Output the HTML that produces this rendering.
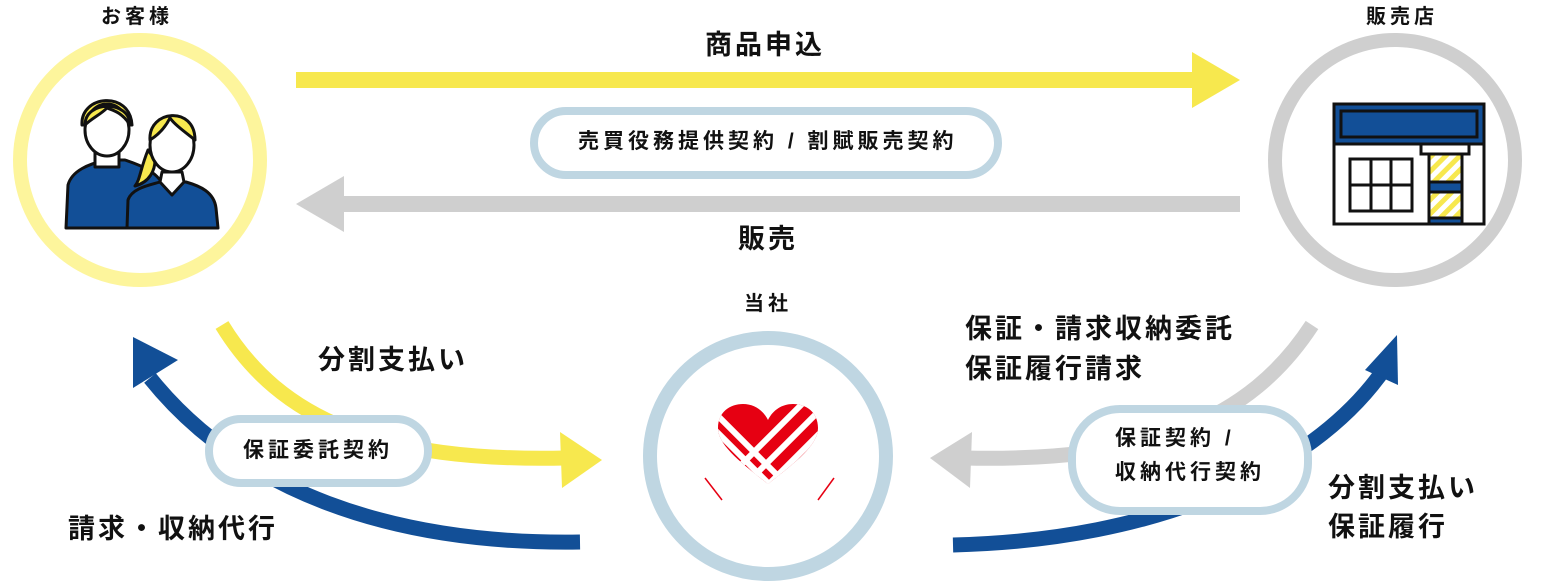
<!DOCTYPE html>
<html><head><meta charset="utf-8"><style>
html,body{margin:0;padding:0;background:#fff;}
body{width:1548px;height:586px;overflow:hidden;position:relative;font-family:"Liberation Sans","Noto Sans CJK JP",sans-serif;font-weight:bold;color:#111;}
.t{position:absolute;white-space:nowrap;line-height:1;}
.big{font-size:27px;letter-spacing:3px;}
.pl{font-size:21px;letter-spacing:4px;}
.lb{font-size:20px;letter-spacing:4px;}
</style></head><body>
<svg width="1548" height="586" style="position:absolute;left:0;top:0">
<defs>
<clipPath id="hc"><path d="M768,484 C740,462 718,445 718,428 C718,412 730,404 743,404 C754,404 763,410 768,420 C773,410 782,404 793,404 C806,404 818,412 818,428 C818,445 796,462 768,484Z"/></clipPath>
<pattern id="st" width="10" height="10" patternUnits="userSpaceOnUse" patternTransform="rotate(45)"><rect width="5" height="10" fill="#f7e84e"/></pattern>
</defs>
<circle cx="140" cy="160" r="120" fill="#fff" stroke="#fdf59c" stroke-width="14"/>
<circle cx="1395" cy="160" r="120" fill="#fff" stroke="#cfcfcf" stroke-width="14"/>
<circle cx="768" cy="456" r="118" fill="#fff" stroke="#bfd6e2" stroke-width="14"/>
<rect x="296" y="72" width="900" height="16" fill="#f7e84e"/>
<polygon points="1192,52 1240,80 1192,108" fill="#f7e84e"/>
<rect x="340" y="196" width="900" height="16" fill="#cfcfcf"/>
<polygon points="344,176 296,204 344,232" fill="#cfcfcf"/>
<path d="M222,325 C280,420 380,462 565,458" fill="none" stroke="#f7e84e" stroke-width="15"/>
<polygon points="560,432 602,460 562,488" fill="#f7e84e"/>
<path d="M580,542 C390,545 240,490 150,378" fill="none" stroke="#124f97" stroke-width="15"/>
<polygon points="133,337 178,360 133,388" fill="#124f97"/>
<path d="M1312,325 C1250,420 1150,462 965,458" fill="none" stroke="#cfcfcf" stroke-width="15"/>
<polygon points="972,432 930,458 970,488" fill="#cfcfcf"/>
<path d="M953,545 C1160,540 1310,470 1380,375" fill="none" stroke="#124f97" stroke-width="15"/>
<polygon points="1397,335 1398,385 1365,370" fill="#124f97"/>
<rect x="534" y="111" width="464" height="64" rx="32" fill="#fff" stroke="#bfd6e2" stroke-width="8"/>
<rect x="209" y="419" width="219" height="64" rx="32" fill="#fff" stroke="#bfd6e2" stroke-width="8"/>
<rect x="1072" y="409" width="236" height="102" rx="48" fill="#fff" stroke="#bfd6e2" stroke-width="8"/>
<g stroke="#111" stroke-width="3" stroke-linejoin="round">
<path d="M66,228 L68,185 C72,170 90,164 105,160 L125,160 C140,165 160,172 165,190 L165,228Z" fill="#124f97"/>
<rect x="95" y="145" width="24" height="22" fill="#fff"/>
<path d="M82,125 C80,95 130,90 132,125 Z" fill="#f7e84e"/>
<ellipse cx="107" cy="130" rx="22" ry="26" fill="#fff"/>
<path d="M85,125 C85,100 130,100 130,125 C122,112 112,110 107,108 C100,115 92,118 85,125Z" fill="#f7e84e"/>
<path d="M127,228 L128,200 C132,188 150,185 160,182 L186,182 C200,186 214,192 216,208 L218,228Z" fill="#124f97"/>
<path d="M162,172 L160,182 L172,195 L184,182 L182,172Z" fill="#fff"/>
<path d="M148,150 C140,170 140,180 135,186 C150,182 155,170 155,160Z" fill="#f7e84e"/>
<ellipse cx="172" cy="145" rx="22" ry="27" fill="#fff"/>
<path d="M150,140 C148,110 195,105 195,140 C185,132 175,125 170,118 C165,128 158,135 150,140Z" fill="#f7e84e"/>
</g>
<g stroke="#111" stroke-width="3">
<rect x="1334" y="104" width="150" height="120" fill="#fff"/>
<rect x="1334" y="104" width="150" height="40" fill="#124f97"/>
<rect x="1341" y="111" width="136" height="26" fill="#124f97"/>
<rect x="1421" y="144" width="48" height="10" fill="#fff"/>
<rect x="1350" y="159" width="62" height="52" fill="#fff"/>
<line x1="1371" y1="159" x2="1371" y2="211"/><line x1="1391" y1="159" x2="1391" y2="211"/><line x1="1350" y1="185" x2="1412" y2="185"/>
<rect x="1429" y="154" width="33" height="70" fill="url(#st)"/>
<rect x="1429" y="182" width="33" height="10" fill="#124f97"/>
<rect x="1429" y="218" width="33" height="6" fill="#124f97"/>
</g>
<g clip-path="url(#hc)">
<rect x="710" y="400" width="120" height="90" fill="#e60012"/>
<g stroke="#fff" stroke-width="6">
<line x1="700" y1="430" x2="770" y2="500"/><line x1="700" y1="415" x2="780" y2="495"/><line x1="705" y1="403" x2="790" y2="488"/>
<line x1="740" y1="490" x2="830" y2="400"/><line x1="728" y1="478" x2="812" y2="394"/><line x1="755" y1="498" x2="840" y2="413"/>
</g></g>
<line x1="705" y1="478" x2="722" y2="500" stroke="#e60012" stroke-width="1.5"/>
<line x1="834" y1="478" x2="818" y2="500" stroke="#e60012" stroke-width="1.5"/>
</svg>
<div class="t lb" style="left:101px;top:7px">お客様</div>
<div class="t lb" style="left:1366px;top:7px">販売店</div>
<div class="t lb" style="left:744px;top:294px">当社</div>
<div class="t big" style="left:705px;top:32px">商品申込</div>
<div class="t big" style="left:738px;top:226px">販売</div>
<div class="t pl" style="left:578px;top:131px">売買役務提供契約 / 割賦販売契約</div>
<div class="t pl" style="left:243px;top:440px">保証委託契約</div>
<div class="t pl" style="left:1115px;top:428px">保証契約 /</div>
<div class="t pl" style="left:1115px;top:462px">収納代行契約</div>
<div class="t big" style="left:318px;top:347px">分割支払い</div>
<div class="t big" style="left:68px;top:516px">請求・収納代行</div>
<div class="t big" style="left:965px;top:316px">保証・請求収納委託</div>
<div class="t big" style="left:965px;top:356px">保証履行請求</div>
<div class="t big" style="left:1328px;top:475px">分割支払い</div>
<div class="t big" style="left:1328px;top:514px">保証履行</div>
</body></html>
